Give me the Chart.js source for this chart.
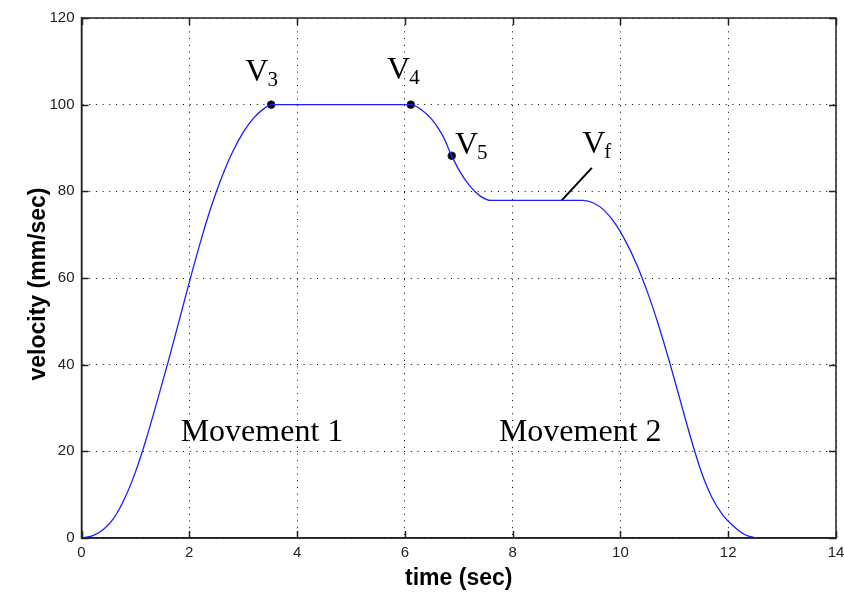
<!DOCTYPE html>
<html>
<head>
<meta charset="utf-8">
<script src="https://cdn.jsdelivr.net/npm/chart.js@4"></script>
<style>
  html, body { margin: 0; padding: 0; background: #fff; }
  #wrap { width: 844px; height: 595px; }
</style>
</head>
<body>
<div id="wrap"><canvas id="velChart" width="844" height="595"></canvas></div>
<script>
// velocity profile (time in sec, velocity in mm/sec)
const timeSec = [0, 0.2, 0.4, 0.6, 0.8, 1.0, 1.2, 1.4, 1.6, 1.8, 2.0, 2.2, 2.4, 2.6, 2.8, 3.0, 3.2, 3.4, 3.52,
  6.11, 6.3, 6.5, 6.7, 6.87, 7.0, 7.2, 7.4, 7.6,
  9.3, 9.5, 9.7, 9.9, 10.1, 10.3, 10.5, 10.7, 10.9, 11.1, 11.3, 11.5, 11.7, 11.9, 12.1, 12.3, 12.53];
const velocity = [0, 0.5, 1.9, 4.6, 9.1, 15.2, 22.8, 31.4, 40.3, 49.6, 59.0, 68.0, 76.2, 83.2, 89.0, 93.6, 97.0, 99.2, 100,
  100, 98.9, 96.6, 92.9, 88.2, 85.0, 81.3, 78.9, 77.9,
  77.9, 77.3, 75.6, 72.6, 68.4, 63.2, 56.8, 49.4, 41.1, 32.2, 23.3, 15.3, 9.3, 5.3, 2.7, 0.8, 0];

// marked points V3, V4, V5
const markTime = [3.52, 6.11, 6.87];
const markVel = [100, 100, 88.2];

// pointer line for Vf
const vfTime = [8.91, 9.47];
const vfVel = [77.9, 85.4];

const xTicks = [0, 2, 4, 6, 8, 10, 12, 14];
const yTicks = [0, 20, 40, 60, 80, 100, 120];

// text labels: [main, subscript, x, y] in data units (x = sec, y = mm/sec)
const labels = [
  ['V', '3', 3.04, 105.4],
  ['V', '4', 5.67, 106.0],
  ['V', '5', 6.93, 88.7],
  ['V', 'f', 9.29, 88.9]
];
const bigLabels = [
  ['Movement 1', 1.84, 22.3],
  ['Movement 2', 7.745, 22.3]
];

const curve = timeSec.map((t, i) => ({ x: t, y: velocity[i] }));
const marks = markTime.map((t, i) => ({ x: t, y: markVel[i] }));
const vfLine = vfTime.map((t, i) => ({ x: t, y: vfVel[i] }));

const frame = {
  id: 'frame',
  afterDraw(chart) {
    const { ctx, chartArea: a, scales: { x, y } } = chart;
    ctx.save();
    // top/right box
    ctx.strokeStyle = '#222';
    ctx.lineWidth = 1.5;
    ctx.strokeRect(a.left, a.top, a.right - a.left, a.bottom - a.top);
    // ticks pointing inward
    ctx.beginPath();
    xTicks.forEach(v => {
      const px = Math.round(x.getPixelForValue(v)) + 0.5;
      ctx.moveTo(px, a.bottom); ctx.lineTo(px, a.bottom - 7);
      ctx.moveTo(px, a.top); ctx.lineTo(px, a.top + 7);
    });
    yTicks.forEach(v => {
      const py = Math.round(y.getPixelForValue(v)) + 0.5;
      ctx.moveTo(a.left, py); ctx.lineTo(a.left + 7, py);
      ctx.moveTo(a.right, py); ctx.lineTo(a.right - 7, py);
    });
    ctx.stroke();

    // annotations
    ctx.fillStyle = '#000';
    ctx.textBaseline = 'alphabetic';
    ctx.textAlign = 'left';
    labels.forEach(([main, sub, tx, vy]) => {
      const px = x.getPixelForValue(tx);
      const py = y.getPixelForValue(vy);
      ctx.font = '32px "Liberation Serif", "Times New Roman", serif';
      ctx.fillText(main, px, py);
      const w = ctx.measureText(main).width;
      ctx.font = '21px "Liberation Serif", "Times New Roman", serif';
      ctx.fillText(sub, px + w - 1, py + 5);
    });
    ctx.font = '32px "Liberation Serif", "Times New Roman", serif';
    bigLabels.forEach(([txt, tx, vy]) => {
      ctx.fillText(txt, x.getPixelForValue(tx), y.getPixelForValue(vy));
    });

    // axis titles
    ctx.font = 'bold 23px "Liberation Sans", Arial, sans-serif';
    ctx.textAlign = 'center';
    ctx.fillText('time (sec)', (a.left + a.right) / 2, 585);
    ctx.translate(45, 284);
    ctx.rotate(-Math.PI / 2);
    ctx.fillText('velocity (mm/sec)', 0, 0);
    ctx.restore();
  }
};

new Chart(document.getElementById('velChart'), {
  type: 'scatter',
  data: {
    datasets: [
      {
        data: curve,
        showLine: true,
        borderColor: 'rgb(30,30,255)',
        borderWidth: 1.3,
        pointRadius: 0,
        cubicInterpolationMode: 'monotone'
      },
      {
        data: vfLine,
        showLine: true,
        borderColor: '#000',
        borderWidth: 2,
        pointRadius: 0
      },
      {
        data: marks,
        pointRadius: 3.8,
        pointBackgroundColor: '#000',
        pointBorderColor: '#222',
        pointBorderWidth: 1
      }
    ]
  },
  options: {
    responsive: false,
    animation: false,
    layout: { padding: { left: 0, right: 8, top: 18, bottom: 0 } },
    plugins: { legend: { display: false }, tooltip: { enabled: false } },
    scales: {
      x: {
        type: 'linear',
        min: 0, max: 14,
        afterBuildTicks: s => { s.ticks = xTicks.map(v => ({ value: v })); },
        afterFit: s => { s.height = 57; s.paddingLeft = 0; s.paddingRight = 0; },
        ticks: { color: '#222', padding: 6, font: { family: '"Liberation Sans", Arial, sans-serif', size: 15 } },
        grid: { color: '#000', lineWidth: 1, drawTicks: false },
        border: { color: '#222', width: 1.5, dash: [1, 5.7] }
      },
      y: {
        type: 'linear',
        min: 0, max: 120,
        afterBuildTicks: s => { s.ticks = yTicks.map(v => ({ value: v })); },
        afterFit: s => { s.width = 81.5; s.paddingTop = 0; s.paddingBottom = 0; },
        ticks: { color: '#222', padding: 7, font: { family: '"Liberation Sans", Arial, sans-serif', size: 15 } },
        grid: { color: '#000', lineWidth: 1, drawTicks: false },
        border: { color: '#222', width: 1.5, dash: [1, 5.7] }
      }
    }
  },
  plugins: [frame]
});
</script>
</body>
</html>
